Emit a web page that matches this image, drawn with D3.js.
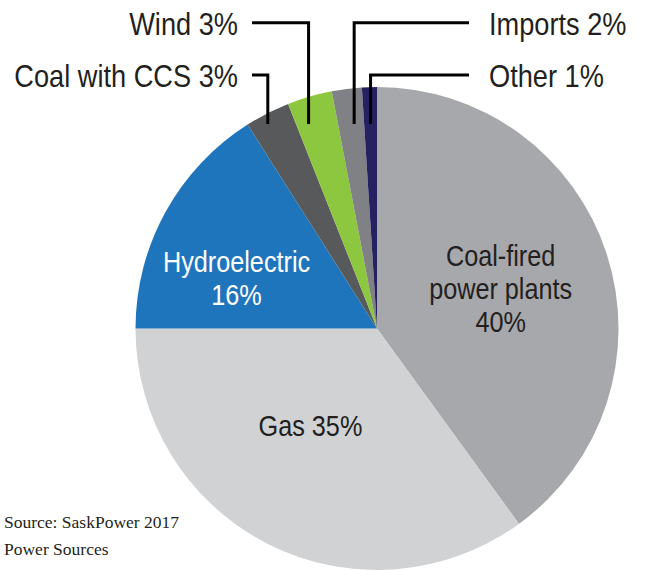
<!DOCTYPE html>
<html>
<head>
<meta charset="utf-8">
<script src="https://cdn.jsdelivr.net/npm/d3@7"></script>
<style>
  body { margin: 0; background: #fff; }
  svg { display: block; }
</style>
</head>
<body>
<div id="chart"></div>
<script>
// SaskPower 2017 power sources
var sources = ["Coal-fired power plants", "Gas", "Hydroelectric", "Coal with CCS", "Wind", "Imports", "Other"];
var shares = [40, 35, 16, 3, 3, 2, 1];
var colors = ["#a7a8ab", "#d1d2d4", "#1f75bc", "#58595b", "#8dc63f", "#808184", "#262262"];
// inside labels (lines), outside labels
var innerLabels = [["Coal-fired", "power plants", "40%"], ["Gas 35%"], ["Hydroelectric", "16%"], null, null, null, null];
var outerLabels = [null, null, null, "Coal with CCS 3%", "Wind 3%", "Imports 2%", "Other 1%"];

var width = 646;
var height = 571;
var cx = 377, cy = 328.5;
var radius = 241.5;
var sansFont = '"Liberation Sans", Arial, sans-serif';
var squeeze = 0.87; // fake a condensed face

var svg = d3.select('#chart')
    .append('svg')
        .attr('width', width)
        .attr('height', height);

var g = svg.append('g')
    .attr('transform', 'translate(' + cx + ',' + cy + ')');

var arc = d3.arc()
    .innerRadius(0)
    .outerRadius(radius);

var pie = d3.pie()
    .value(function(d) { return d; })
    .sort(null);

var arcs = pie(shares);

g.selectAll('path')
    .data(arcs)
    .enter()
    .append('path')
        .attr('d', arc)
        .attr('fill', function(d, i) { return colors[i]; });

function squeezedText(parent, x, y, anchor, sq) {
    return parent.append('g')
        .attr('transform', 'translate(' + x + ',' + y + ') scale(' + (sq || squeeze) + ',1)')
        .append('text')
            .attr('text-anchor', anchor)
            .attr('font-family', sansFont);
}

// inner labels - radius per slice plus a little nudge
var labelRadius = [130, 118, 150];
var labelNudge = [[0, 0], [-13, -8], [-9, 22]];
var lineH = 33;

arcs.forEach(function(d, i) {
    if (!innerLabels[i]) return;
    var la = d3.arc().innerRadius(labelRadius[i]).outerRadius(labelRadius[i]);
    var c = la.centroid(d);
    var lines = innerLabels[i];
    var t = squeezedText(g, c[0] + labelNudge[i][0], c[1] + labelNudge[i][1], 'middle')
        .attr('font-size', 29)
        .attr('fill', i == 2 ? '#ffffff' : '#231f20');
    lines.forEach(function(s, k) {
        t.append('tspan')
            .attr('x', 0)
            .attr('y', 10.5 + (k - (lines.length - 1) / 2) * lineH)
            .text(s);
    });
});

// leader lines for small slices
var lineBottom = -204.5;        // relative to centre
var rowY = [75, 22.7, 22.7, 75]; // absolute y of the label rows (CCS, Wind, Imports, Other)
var leftX = 252, rightX = 469;
var leaderNudge = [-5, -9, 3, 0];

arcs.forEach(function(d, i) {
    if (!outerLabels[i]) return;
    var k = i - 3;
    var mid = (d.startAngle + d.endAngle) / 2;
    var x = Math.tan(mid) * -lineBottom + leaderNudge[k];
    var left = k < 2;
    var top = rowY[k] - cy;
    var endX = (left ? leftX : rightX) - cx;
    g.append('path')
        .attr('d', 'M' + x + ',' + lineBottom + 'V' + top + 'H' + endX)
        .attr('fill', 'none')
        .attr('stroke', '#000')
        .attr('stroke-width', 3);
    squeezedText(g, left ? endX - 14 : endX + 20, top + 12, left ? 'end' : 'start', 0.85)
        .attr('font-size', 32)
        .attr('fill', '#231f20')
        .text(outerLabels[i]);
});

svg.append('text')
    .attr('x', 4)
    .attr('y', 528)
    .attr('font-family', '"Liberation Serif", "Times New Roman", serif')
    .attr('font-size', 17.5)
    .attr('fill', '#231f20')
    .text("Source: SaskPower 2017");
svg.append('text')
    .attr('x', 4)
    .attr('y', 555)
    .attr('font-family', '"Liberation Serif", "Times New Roman", serif')
    .attr('font-size', 17.5)
    .attr('fill', '#231f20')
    .text("Power Sources");
</script>
</body>
</html>
